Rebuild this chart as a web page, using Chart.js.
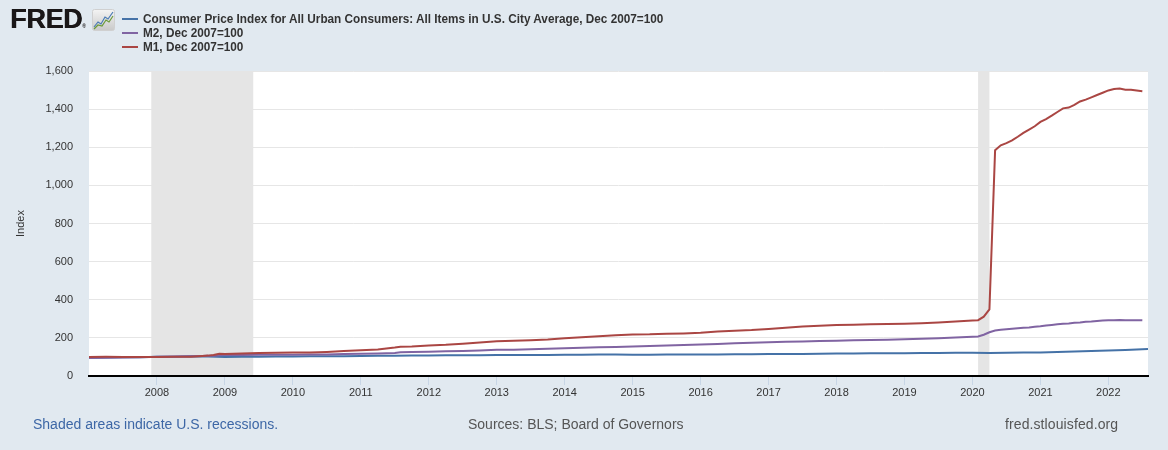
<!DOCTYPE html>
<html lang="en">
<head>
    <meta charset="UTF-8">
    <title>FRED - CPI, M2, M1</title>
    <script src="https://cdn.jsdelivr.net/npm/chart.js"></script>
    <style>
        html, body { margin: 0; padding: 0; background: #e1e9f0; }
        #wrap { position: relative; width: 1168px; height: 450px; overflow: hidden; font-family: "Liberation Sans", Arial, sans-serif; }
        #grafico { position: absolute; left: 0; top: 0; }
        .logo { position: absolute; left: 10px; top: 4px; font: 900 27px "Liberation Sans", Arial, sans-serif; letter-spacing: -0.3px; color: #1a1718; text-shadow: 0.5px 0 0 #1a1718; }
        .logo small { font-size: 5px; letter-spacing: 0; vertical-align: baseline; text-shadow: none; }
        .icon { position: absolute; left: 92px; top: 9px; }
        .legend { position: absolute; left: 122px; top: 11px; }
        .legend div { height: 14px; line-height: 14px; white-space: nowrap; font: bold 13px "Liberation Sans Narrow", "Arial Narrow", "Liberation Sans", sans-serif; color: #333; }
        .legend span.sw { display: inline-block; width: 16px; height: 2px; vertical-align: middle; margin-right: 5px; position: relative; top: -1px; }
        .legend span.tx { display: inline-block; transform: scaleX(0.905); transform-origin: left center; }
        .nota { position: absolute; top: 416px; font-size: 14px; }
        #rec { left: 33px; color: #3d67a6; }
        #src { left: 468px; color: #555; }
        #url { left: 1005px; color: #555; letter-spacing: 0.1px; }
    </style>
</head>
<body>
<div id="wrap">
    <canvas id="grafico" width="1168" height="450"></canvas>
    <div class="logo">FRED<small>®</small></div>
    <svg class="icon" width="24" height="23" viewBox="0 0 24 23">
        <defs>
            <linearGradient id="g" x1="0" y1="0" x2="0" y2="1">
                <stop offset="0" stop-color="#f4f4f4"/>
                <stop offset="1" stop-color="#c9c9c9"/>
            </linearGradient>
        </defs>
        <rect x="0.5" y="0.5" width="22" height="21" rx="2" fill="url(#g)" stroke="#d0d0d0"/>
        <polyline points="2,18 6,13 9,15 13,8 16,10 21,3" fill="none" stroke="#4a7bb5" stroke-width="1.2"/>
        <polyline points="2,20 6,16 10,17 14,11 17,13 21,7" fill="none" stroke="#6a9a3a" stroke-width="1.2"/>
    </svg>
    <div class="legend">
        <div><span class="sw" style="background:#4572a7"></span><span class="tx">Consumer Price Index for All Urban Consumers: All Items in U.S. City Average, Dec 2007=100</span></div>
        <div><span class="sw" style="background:#8064a2"></span><span class="tx">M2, Dec 2007=100</span></div>
        <div><span class="sw" style="background:#aa4643"></span><span class="tx">M1, Dec 2007=100</span></div>
    </div>
    <div class="nota" id="rec">Shaded areas indicate U.S. recessions.</div>
    <div class="nota" id="src">Sources: BLS; Board of Governors</div>
    <div class="nota" id="url">fred.stlouisfed.org</div>
</div>
<script>
    // datas mensais (AAAA-MM) das series monetarias
    const moneyDates = [
        '2007-01','2007-04','2007-07','2007-10','2007-12',
        '2008-01','2008-04','2008-07','2008-09','2008-10','2008-11','2008-12',
        '2009-01','2009-04','2009-07','2009-10',
        '2010-01','2010-04','2010-07','2010-10',
        '2011-01','2011-04','2011-07','2011-08','2011-10',
        '2012-01','2012-04','2012-07','2012-10',
        '2013-01','2013-04','2013-07','2013-10',
        '2014-01','2014-04','2014-07','2014-10',
        '2015-01','2015-04','2015-07','2015-10',
        '2016-01','2016-04','2016-07','2016-10',
        '2017-01','2017-04','2017-07','2017-10',
        '2018-01','2018-04','2018-07','2018-10',
        '2019-01','2019-04','2019-07','2019-10',
        '2020-01','2020-02','2020-03','2020-04','2020-05','2020-06','2020-07','2020-08','2020-09','2020-10','2020-11','2020-12',
        '2021-01','2021-02','2021-03','2021-04','2021-05','2021-06','2021-07','2021-08','2021-09','2021-10','2021-11','2021-12',
        '2022-01','2022-02','2022-03','2022-04','2022-05','2022-06','2022-07'
    ];
    const m1 = [
        100.3, 100.4, 99.6, 99.6, 100,
        100.1, 100.9, 101.5, 105.5, 106.9, 109.8, 116.4,
        114.9, 117.8, 120.7, 122.2,
        122.9, 123.6, 126.5, 130.9,
        134.5, 138.9, 149.0, 154.0, 154.9,
        160.0, 163.6, 169.5, 176.0,
        182.0, 184.5, 188.0, 192.0,
        198.0, 203.0, 208.0, 213.5,
        218.0, 218.5, 221.0, 223.5,
        227.0, 233.0, 237.5, 241.0,
        247.0, 253.0, 259.5, 263.5,
        267.0, 268.5, 271.0, 272.5,
        274.5, 277.0, 281.0, 286.5,
        291.5, 293.0, 311.0, 349.0, 1184, 1210, 1222, 1236, 1255, 1275, 1293, 1310,
        1333, 1348, 1366, 1385, 1404, 1408, 1422, 1440, 1450, 1462, 1474, 1486,
        1498, 1505, 1508, 1502, 1502, 1498, 1494
    ];
    const m2 = [
        95.0, 96.2, 97.3, 98.8, 100,
        100.6, 102.6, 103.2, 104.6, 105.6, 106.6, 108.3,
        109.7, 110.5, 111.5, 111.6,
        111.3, 112.3, 113.3, 115.1,
        116.2, 118.2, 121.3, 124.7, 125.7,
        127.2, 129.3, 131.7, 134.4,
        137.1, 138.1, 140.2, 142.7,
        145.1, 147.9, 150.2, 152.4,
        155.1, 157.5, 160.0, 162.2,
        164.9, 168.4, 171.5, 174.4,
        177.2, 179.6, 181.5, 183.5,
        185.2, 187.3, 189.2, 190.7,
        193.0, 194.9, 198.3, 202.3,
        205.5, 207.0, 216.3, 229.5, 239.0, 242.5, 245, 248, 251, 253, 255, 258,
        261, 265, 268, 271, 274, 276, 279, 281, 284, 286, 289, 291,
        292, 293, 294, 293, 293, 293, 292
    ];
    // CPI, trimestral ate 2022
    const cpiDates = [
        '2007-01','2007-04','2007-07','2007-10',
        '2008-01','2008-04','2008-07','2008-10',
        '2009-01','2009-04','2009-07','2009-10',
        '2010-01','2010-04','2010-07','2010-10',
        '2011-01','2011-04','2011-07','2011-10',
        '2012-01','2012-04','2012-07','2012-10',
        '2013-01','2013-04','2013-07','2013-10',
        '2014-01','2014-04','2014-07','2014-10',
        '2015-01','2015-04','2015-07','2015-10',
        '2016-01','2016-04','2016-07','2016-10',
        '2017-01','2017-04','2017-07','2017-10',
        '2018-01','2018-04','2018-07','2018-10',
        '2019-01','2019-04','2019-07','2019-10',
        '2020-01','2020-04','2020-07','2020-10',
        '2021-01','2021-04','2021-07','2021-10',
        '2022-01','2022-04','2022-07','2022-08'
    ];
    const cpi = [
        96.0, 97.4, 98.2, 99.0,
        100.4, 101.5, 103.6, 102.6,
        100.1, 100.7, 101.6, 102.3,
        102.8, 103.0, 103.2, 103.6,
        104.6, 106.1, 106.8, 107.4,
        107.9, 108.4, 108.4, 109.5,
        109.6, 109.7, 110.4, 110.8,
        111.3, 112.0, 112.4, 112.3,
        111.3, 111.7, 112.3, 112.4,
        112.6, 113.0, 113.6, 114.3,
        115.3, 115.4, 115.6, 116.5,
        117.6, 118.2, 118.7, 119.4,
        119.2, 120.1, 120.8, 121.5,
        122.4, 121.1, 122.3, 123.0,
        123.8, 126.2, 128.9, 131.1,
        133.7, 136.9, 139.7, 141.0
    ];
    const recStart = ['2007-12', '2020-02'];
    const recEnd = ['2009-06', '2020-04'];
    const yearTicks = [2008, 2009, 2010, 2011, 2012, 2013, 2014, 2015, 2016, 2017, 2018, 2019, 2020, 2021, 2022];
    const xMin = '2007-01';
    const xMax = '2022-08';

    function anoDecimal(s) {
        const [a, m] = s.split('-').map(Number);
        return a + (m - 1) / 12;
    }

    function pontos(datas, valores) {
        return datas.map((d, i) => ({ x: anoDecimal(d), y: valores[i] }));
    }

    const fundoPlugin = {
        id: 'fundo',
        beforeDraw(chart) {
            const { ctx, chartArea: a } = chart;
            ctx.save();
            ctx.fillStyle = '#ffffff';
            ctx.fillRect(a.left, a.top, a.right - a.left, a.bottom - a.top);
            ctx.restore();
        },
        beforeDatasetsDraw(chart) {
            const { ctx, chartArea: a } = chart;
            const x = chart.scales.x;
            ctx.save();
            ctx.fillStyle = '#e5e5e5';
            recStart.forEach((s, i) => {
                const x0 = x.getPixelForValue(anoDecimal(s));
                const x1 = x.getPixelForValue(anoDecimal(recEnd[i]));
                ctx.fillRect(x0, a.top, x1 - x0, a.bottom - a.top - 1);
            });
            ctx.restore();
        }
    };

    function criarGrafico() {
        const ctx = document.getElementById('grafico').getContext('2d');
        const fonte = { family: '"Liberation Sans", Arial, sans-serif', size: 11 };
        new Chart(ctx, {
            type: 'line',
            data: {
                datasets: [
                    { label: 'CPI', data: pontos(cpiDates, cpi), borderColor: '#4572a7', order: 2 },
                    { label: 'M2', data: pontos(moneyDates, m2), borderColor: '#8064a2', order: 1 },
                    { label: 'M1', data: pontos(moneyDates, m1), borderColor: '#aa4643', order: 0 }
                ]
            },
            options: {
                responsive: false,
                animation: false,
                parsing: false,
                layout: { padding: { top: 71, right: 20, bottom: 50, left: 0 } },
                elements: {
                    line: { borderWidth: 2, tension: 0 },
                    point: { radius: 0 }
                },
                plugins: { legend: { display: false }, tooltip: { enabled: false } },
                scales: {
                    x: {
                        type: 'linear',
                        min: anoDecimal(xMin),
                        max: anoDecimal(xMax),
                        afterBuildTicks: s => { s.ticks = yearTicks.map(v => ({ value: v })); },
                        afterFit: s => { s.height = 24; },
                        grid: { drawOnChartArea: false, drawTicks: true, tickLength: 9, color: '#c8d6e6' },
                        border: { display: true, color: '#000000', width: 2 },
                        ticks: { color: '#333333', font: fonte, padding: 1, maxRotation: 0, callback: v => String(v) }
                    },
                    y: {
                        min: 0,
                        max: 1600,
                        afterFit: s => { s.width = 89; },
                        grid: { color: '#e6e6e6', drawTicks: false },
                        border: { display: false },
                        ticks: { stepSize: 200, color: '#333333', font: fonte, padding: 16,
                                 callback: v => v.toLocaleString('en-US') },
                        title: { display: true, text: 'Index', color: '#333333', font: fonte, padding: { top: 14, bottom: 0 } }
                    }
                }
            },
            plugins: [fundoPlugin]
        });
    }

    window.onload = function() {
        criarGrafico();
    };
</script>
</body>
</html>
